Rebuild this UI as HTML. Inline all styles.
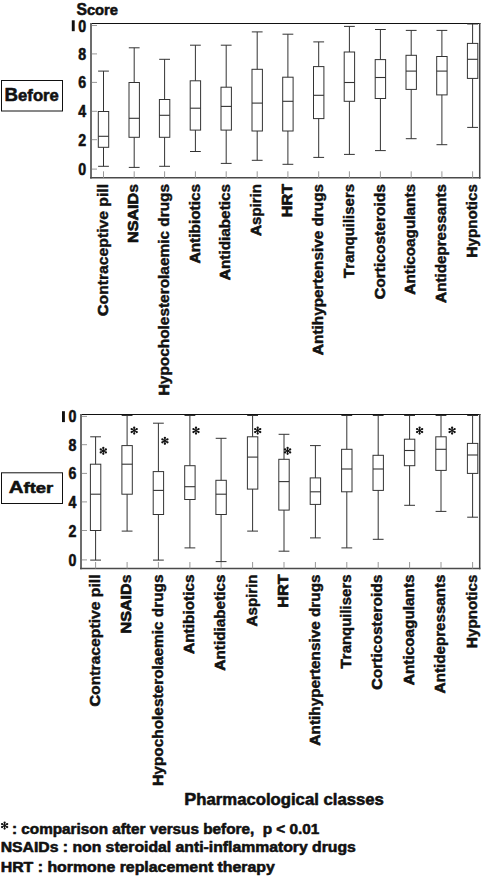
<!DOCTYPE html>
<html><head><meta charset="utf-8"><style>
html,body{margin:0;padding:0;background:#fff;overflow:hidden;}
svg{display:block;}
text{font-family:"Liberation Sans",sans-serif;font-weight:bold;fill:#111;stroke:#111;stroke-width:0.55px;stroke-linejoin:round;white-space:pre;}
.yl{font-size:16.2px;}
.xl{font-size:15px;stroke-width:0.42px;}
.t15{font-size:15px;}
.t17{font-size:17px;}
.t14{font-size:14px;}
</style></head><body>
<svg width="482" height="876" viewBox="0 0 482 876">
<rect width="482" height="876" fill="#fff"/>
<text x="76.4" y="14.5" class="t15" textLength="41.7" lengthAdjust="spacingAndGlyphs"><tspan style="font-size:16px">S</tspan>core</text>
<rect x="1.5" y="80.5" width="61" height="30.5" fill="none" stroke="#111" stroke-width="1"/>
<text x="4.6" y="100.5" class="t17" style="font-size:15.6px" textLength="54.2" lengthAdjust="spacingAndGlyphs"><tspan style="font-size:17.5px">B</tspan>efore</text>
<line x1="91" y1="23.5" x2="480.45" y2="23.5" stroke="#111" stroke-width="1.1"/>
<line x1="91" y1="23" x2="91" y2="178.6" stroke="#666" stroke-width="1.9"/>
<line x1="479.7" y1="23" x2="479.7" y2="178.6" stroke="#444" stroke-width="1.5"/>
<line x1="90.05" y1="177.8" x2="480.45" y2="177.8" stroke="#4a4a4a" stroke-width="1.6"/>
<line x1="91.9" y1="169.1" x2="97" y2="169.1" stroke="#999" stroke-width="1"/>
<text x="86.1" y="175.1" text-anchor="end" class="yl" textLength="7.9" lengthAdjust="spacingAndGlyphs">0</text>
<line x1="91.9" y1="139.7" x2="97" y2="139.7" stroke="#999" stroke-width="1"/>
<text x="86.1" y="145.7" text-anchor="end" class="yl" textLength="7.9" lengthAdjust="spacingAndGlyphs">2</text>
<line x1="91.9" y1="111.3" x2="97" y2="111.3" stroke="#999" stroke-width="1"/>
<text x="86.1" y="117.3" text-anchor="end" class="yl" textLength="7.9" lengthAdjust="spacingAndGlyphs">4</text>
<line x1="91.9" y1="82.4" x2="97" y2="82.4" stroke="#999" stroke-width="1"/>
<text x="86.1" y="88.4" text-anchor="end" class="yl" textLength="7.9" lengthAdjust="spacingAndGlyphs">6</text>
<line x1="91.9" y1="53.9" x2="97" y2="53.9" stroke="#999" stroke-width="1"/>
<text x="86.1" y="59.9" text-anchor="end" class="yl" textLength="7.9" lengthAdjust="spacingAndGlyphs">8</text>
<line x1="91.9" y1="25.5" x2="97" y2="25.5" stroke="#999" stroke-width="1"/>
<text x="86.1" y="31.5" text-anchor="end" class="yl" textLength="7.9" lengthAdjust="spacingAndGlyphs">0</text>
<rect x="71.8" y="20.3" width="2.9" height="10.9" fill="#111"/>
<line x1="103.5" y1="171.3" x2="103.5" y2="177.8" stroke="#999" stroke-width="1"/>
<line x1="134.2" y1="171.3" x2="134.2" y2="177.8" stroke="#999" stroke-width="1"/>
<line x1="164.6" y1="171.3" x2="164.6" y2="177.8" stroke="#999" stroke-width="1"/>
<line x1="195.4" y1="171.3" x2="195.4" y2="177.8" stroke="#999" stroke-width="1"/>
<line x1="226.2" y1="171.3" x2="226.2" y2="177.8" stroke="#999" stroke-width="1"/>
<line x1="257.2" y1="171.3" x2="257.2" y2="177.8" stroke="#999" stroke-width="1"/>
<line x1="287.9" y1="171.3" x2="287.9" y2="177.8" stroke="#999" stroke-width="1"/>
<line x1="318.7" y1="171.3" x2="318.7" y2="177.8" stroke="#999" stroke-width="1"/>
<line x1="349.4" y1="171.3" x2="349.4" y2="177.8" stroke="#999" stroke-width="1"/>
<line x1="380.4" y1="171.3" x2="380.4" y2="177.8" stroke="#999" stroke-width="1"/>
<line x1="411.2" y1="171.3" x2="411.2" y2="177.8" stroke="#999" stroke-width="1"/>
<line x1="441.9" y1="171.3" x2="441.9" y2="177.8" stroke="#999" stroke-width="1"/>
<line x1="472.6" y1="171.3" x2="472.6" y2="177.8" stroke="#999" stroke-width="1"/>
<path d="M103.5 71.1V111.5M103.5 147.3V166.3M98.1 71.1H108.9M98.1 166.3H108.9" stroke="#333" stroke-width="1" fill="none"/>
<rect x="98.3" y="111.5" width="10.4" height="35.8" stroke="#333" stroke-width="1" fill="none"/>
<line x1="98.3" y1="136.3" x2="108.7" y2="136.3" stroke="#333" stroke-width="1.1"/>
<path d="M134.2 47.8V82.5M134.2 137.3V167.4M128.8 47.8H139.6M128.8 167.4H139.6" stroke="#333" stroke-width="1" fill="none"/>
<rect x="129" y="82.5" width="10.4" height="54.8" stroke="#333" stroke-width="1" fill="none"/>
<line x1="129" y1="118.3" x2="139.4" y2="118.3" stroke="#333" stroke-width="1.1"/>
<path d="M164.6 59.3V99.5M164.6 137.3V166.3M159.2 59.3H170M159.2 166.3H170" stroke="#333" stroke-width="1" fill="none"/>
<rect x="159.4" y="99.5" width="10.4" height="37.8" stroke="#333" stroke-width="1" fill="none"/>
<line x1="159.4" y1="115.3" x2="169.8" y2="115.3" stroke="#333" stroke-width="1.1"/>
<path d="M195.4 45.2V80.8M195.4 130.1V151.5M190 45.2H200.8M190 151.5H200.8" stroke="#333" stroke-width="1" fill="none"/>
<rect x="190.2" y="80.8" width="10.4" height="49.3" stroke="#333" stroke-width="1" fill="none"/>
<line x1="190.2" y1="108.2" x2="200.6" y2="108.2" stroke="#333" stroke-width="1.1"/>
<path d="M226.2 45.2V87.2M226.2 130.1V163.4M220.8 45.2H231.6M220.8 163.4H231.6" stroke="#333" stroke-width="1" fill="none"/>
<rect x="221" y="87.2" width="10.4" height="42.9" stroke="#333" stroke-width="1" fill="none"/>
<line x1="221" y1="106.4" x2="231.4" y2="106.4" stroke="#333" stroke-width="1.1"/>
<path d="M257.2 31.9V69.3M257.2 131V160.3M251.8 31.9H262.6M251.8 160.3H262.6" stroke="#333" stroke-width="1" fill="none"/>
<rect x="252" y="69.3" width="10.4" height="61.7" stroke="#333" stroke-width="1" fill="none"/>
<line x1="252" y1="103.1" x2="262.4" y2="103.1" stroke="#333" stroke-width="1.1"/>
<path d="M287.9 34.2V77.2M287.9 131V164.3M282.5 34.2H293.3M282.5 164.3H293.3" stroke="#333" stroke-width="1" fill="none"/>
<rect x="282.7" y="77.2" width="10.4" height="53.8" stroke="#333" stroke-width="1" fill="none"/>
<line x1="282.7" y1="101.3" x2="293.1" y2="101.3" stroke="#333" stroke-width="1.1"/>
<path d="M318.7 41.9V66.6M318.7 118.6V157.4M313.3 41.9H324.1M313.3 157.4H324.1" stroke="#333" stroke-width="1" fill="none"/>
<rect x="313.5" y="66.6" width="10.4" height="52" stroke="#333" stroke-width="1" fill="none"/>
<line x1="313.5" y1="95.3" x2="323.9" y2="95.3" stroke="#333" stroke-width="1.1"/>
<path d="M349.4 26.4V52M349.4 101.3V154.4M344 26.4H354.8M344 154.4H354.8" stroke="#333" stroke-width="1" fill="none"/>
<rect x="344.2" y="52" width="10.4" height="49.3" stroke="#333" stroke-width="1" fill="none"/>
<line x1="344.2" y1="82.5" x2="354.6" y2="82.5" stroke="#333" stroke-width="1.1"/>
<path d="M380.4 29.5V59.6M380.4 98.5V150.6M375 29.5H385.8M375 150.6H385.8" stroke="#333" stroke-width="1" fill="none"/>
<rect x="375.2" y="59.6" width="10.4" height="38.9" stroke="#333" stroke-width="1" fill="none"/>
<line x1="375.2" y1="77.5" x2="385.6" y2="77.5" stroke="#333" stroke-width="1.1"/>
<path d="M411.2 30.4V55.3M411.2 89.4V138.7M405.8 30.4H416.6M405.8 138.7H416.6" stroke="#333" stroke-width="1" fill="none"/>
<rect x="406" y="55.3" width="10.4" height="34.1" stroke="#333" stroke-width="1" fill="none"/>
<line x1="406" y1="71.1" x2="416.4" y2="71.1" stroke="#333" stroke-width="1.1"/>
<path d="M441.9 30.4V56.5M441.9 94.9V144.7M436.5 30.4H447.3M436.5 144.7H447.3" stroke="#333" stroke-width="1" fill="none"/>
<rect x="436.7" y="56.5" width="10.4" height="38.4" stroke="#333" stroke-width="1" fill="none"/>
<line x1="436.7" y1="71.1" x2="447.1" y2="71.1" stroke="#333" stroke-width="1.1"/>
<path d="M472.6 24V43.4M472.6 78.4V127.4M467.2 24H478M467.2 127.4H478" stroke="#333" stroke-width="1" fill="none"/>
<rect x="467.4" y="43.4" width="10.4" height="35" stroke="#333" stroke-width="1" fill="none"/>
<line x1="467.4" y1="59.3" x2="477.8" y2="59.3" stroke="#333" stroke-width="1.1"/>
<text transform="translate(107.7,184) rotate(-90)" text-anchor="end" class="xl" textLength="132" lengthAdjust="spacingAndGlyphs"><tspan style="font-size:15.3px;stroke-width:0.7px">C</tspan>ontraceptive pill</text>
<text transform="translate(138.4,184) rotate(-90)" text-anchor="end" class="xl" textLength="59" lengthAdjust="spacingAndGlyphs"><tspan style="font-size:15.3px;stroke-width:0.7px">N</tspan><tspan style="font-size:15.3px;stroke-width:0.7px">S</tspan><tspan style="font-size:15.3px;stroke-width:0.7px">A</tspan><tspan style="font-size:15.3px;stroke-width:0.7px">I</tspan><tspan style="font-size:15.3px;stroke-width:0.7px">D</tspan>s</text>
<text transform="translate(168.8,184) rotate(-90)" text-anchor="end" class="xl" textLength="211.5" lengthAdjust="spacingAndGlyphs"><tspan style="font-size:15.3px;stroke-width:0.7px">H</tspan>ypocholesterolaemic drugs</text>
<text transform="translate(199.6,184) rotate(-90)" text-anchor="end" class="xl" textLength="79.6" lengthAdjust="spacingAndGlyphs"><tspan style="font-size:15.3px;stroke-width:0.7px">A</tspan>ntibiotics</text>
<text transform="translate(230.4,184) rotate(-90)" text-anchor="end" class="xl" textLength="96.3" lengthAdjust="spacingAndGlyphs"><tspan style="font-size:15.3px;stroke-width:0.7px">A</tspan>ntidiabetics</text>
<text transform="translate(261.4,184) rotate(-90)" text-anchor="end" class="xl" textLength="52" lengthAdjust="spacingAndGlyphs"><tspan style="font-size:15.3px;stroke-width:0.7px">A</tspan>spirin</text>
<text transform="translate(292.1,184) rotate(-90)" text-anchor="end" class="xl" textLength="33.2" lengthAdjust="spacingAndGlyphs"><tspan style="font-size:15.3px;stroke-width:0.7px">H</tspan><tspan style="font-size:15.3px;stroke-width:0.7px">R</tspan><tspan style="font-size:15.3px;stroke-width:0.7px">T</tspan></text>
<text transform="translate(322.9,184) rotate(-90)" text-anchor="end" class="xl" textLength="171.2" lengthAdjust="spacingAndGlyphs"><tspan style="font-size:15.3px;stroke-width:0.7px">A</tspan>ntihypertensive drugs</text>
<text transform="translate(353.6,184) rotate(-90)" text-anchor="end" class="xl" textLength="94" lengthAdjust="spacingAndGlyphs"><tspan style="font-size:15.3px;stroke-width:0.7px">T</tspan>ranquilisers</text>
<text transform="translate(384.6,184) rotate(-90)" text-anchor="end" class="xl" textLength="115.3" lengthAdjust="spacingAndGlyphs"><tspan style="font-size:15.3px;stroke-width:0.7px">C</tspan>orticosteroids</text>
<text transform="translate(415.4,184) rotate(-90)" text-anchor="end" class="xl" textLength="110.8" lengthAdjust="spacingAndGlyphs"><tspan style="font-size:15.3px;stroke-width:0.7px">A</tspan>nticoagulants</text>
<text transform="translate(446.1,184) rotate(-90)" text-anchor="end" class="xl" textLength="119" lengthAdjust="spacingAndGlyphs"><tspan style="font-size:15.3px;stroke-width:0.7px">A</tspan>ntidepressants</text>
<text transform="translate(476.8,184) rotate(-90)" text-anchor="end" class="xl" textLength="73.8" lengthAdjust="spacingAndGlyphs"><tspan style="font-size:15.3px;stroke-width:0.7px">H</tspan>ypnotics</text>
<rect x="1.5" y="472.8" width="61" height="30.7" fill="none" stroke="#111" stroke-width="1"/>
<text x="8.7" y="492.9" class="t17" style="font-size:15.5px" textLength="44.6" lengthAdjust="spacingAndGlyphs"><tspan style="font-size:17.2px">A</tspan>fter</text>
<line x1="81" y1="414.5" x2="480.45" y2="414.5" stroke="#111" stroke-width="1.1"/>
<line x1="81" y1="414" x2="81" y2="569.3" stroke="#666" stroke-width="1.9"/>
<line x1="479.7" y1="414" x2="479.7" y2="569.3" stroke="#444" stroke-width="1.5"/>
<line x1="80.05" y1="568.5" x2="480.45" y2="568.5" stroke="#4a4a4a" stroke-width="1.6"/>
<line x1="81.9" y1="559.9" x2="87" y2="559.9" stroke="#999" stroke-width="1"/>
<text x="76.3" y="565.9" text-anchor="end" class="yl" textLength="7.9" lengthAdjust="spacingAndGlyphs">0</text>
<line x1="81.9" y1="530.5" x2="87" y2="530.5" stroke="#999" stroke-width="1"/>
<text x="76.3" y="536.5" text-anchor="end" class="yl" textLength="7.9" lengthAdjust="spacingAndGlyphs">2</text>
<line x1="81.9" y1="501.9" x2="87" y2="501.9" stroke="#999" stroke-width="1"/>
<text x="76.3" y="507.9" text-anchor="end" class="yl" textLength="7.9" lengthAdjust="spacingAndGlyphs">4</text>
<line x1="81.9" y1="473.4" x2="87" y2="473.4" stroke="#999" stroke-width="1"/>
<text x="76.3" y="479.4" text-anchor="end" class="yl" textLength="7.9" lengthAdjust="spacingAndGlyphs">6</text>
<line x1="81.9" y1="444.7" x2="87" y2="444.7" stroke="#999" stroke-width="1"/>
<text x="76.3" y="450.7" text-anchor="end" class="yl" textLength="7.9" lengthAdjust="spacingAndGlyphs">8</text>
<line x1="81.9" y1="416.4" x2="87" y2="416.4" stroke="#999" stroke-width="1"/>
<text x="76.3" y="422.4" text-anchor="end" class="yl" textLength="7.9" lengthAdjust="spacingAndGlyphs">0</text>
<rect x="62" y="411.2" width="2.9" height="10.9" fill="#111"/>
<line x1="95.6" y1="562" x2="95.6" y2="568.5" stroke="#999" stroke-width="1"/>
<line x1="127.1" y1="562" x2="127.1" y2="568.5" stroke="#999" stroke-width="1"/>
<line x1="158.4" y1="562" x2="158.4" y2="568.5" stroke="#999" stroke-width="1"/>
<line x1="189.9" y1="562" x2="189.9" y2="568.5" stroke="#999" stroke-width="1"/>
<line x1="221.1" y1="562" x2="221.1" y2="568.5" stroke="#999" stroke-width="1"/>
<line x1="252.6" y1="562" x2="252.6" y2="568.5" stroke="#999" stroke-width="1"/>
<line x1="284" y1="562" x2="284" y2="568.5" stroke="#999" stroke-width="1"/>
<line x1="315.4" y1="562" x2="315.4" y2="568.5" stroke="#999" stroke-width="1"/>
<line x1="346.8" y1="562" x2="346.8" y2="568.5" stroke="#999" stroke-width="1"/>
<line x1="378.2" y1="562" x2="378.2" y2="568.5" stroke="#999" stroke-width="1"/>
<line x1="409.6" y1="562" x2="409.6" y2="568.5" stroke="#999" stroke-width="1"/>
<line x1="441" y1="562" x2="441" y2="568.5" stroke="#999" stroke-width="1"/>
<line x1="472.6" y1="562" x2="472.6" y2="568.5" stroke="#999" stroke-width="1"/>
<path d="M95.6 436.8V464.2M95.6 530.5V560.1M90.2 436.8H101M90.2 560.1H101" stroke="#333" stroke-width="1" fill="none"/>
<rect x="90.4" y="464.2" width="10.4" height="66.3" stroke="#333" stroke-width="1" fill="none"/>
<line x1="90.4" y1="494.2" x2="100.8" y2="494.2" stroke="#333" stroke-width="1.1"/>
<path d="M127.1 415.5V445.6M127.1 494.2V531.1M121.7 415.5H132.5M121.7 531.1H132.5" stroke="#333" stroke-width="1" fill="none"/>
<rect x="121.9" y="445.6" width="10.4" height="48.6" stroke="#333" stroke-width="1" fill="none"/>
<line x1="121.9" y1="464.2" x2="132.3" y2="464.2" stroke="#333" stroke-width="1.1"/>
<path d="M158.4 423.2V471.6M158.4 514.5V560.1M153 423.2H163.8M153 560.1H163.8" stroke="#333" stroke-width="1" fill="none"/>
<rect x="153.2" y="471.6" width="10.4" height="42.9" stroke="#333" stroke-width="1" fill="none"/>
<line x1="153.2" y1="490.4" x2="163.6" y2="490.4" stroke="#333" stroke-width="1.1"/>
<path d="M189.9 415.5V465.7M189.9 499.5V547.9M184.5 415.5H195.3M184.5 547.9H195.3" stroke="#333" stroke-width="1" fill="none"/>
<rect x="184.7" y="465.7" width="10.4" height="33.8" stroke="#333" stroke-width="1" fill="none"/>
<line x1="184.7" y1="486.7" x2="195.1" y2="486.7" stroke="#333" stroke-width="1.1"/>
<path d="M221.1 438.3V480.3M221.1 514.5V561.6M215.7 438.3H226.5M215.7 561.6H226.5" stroke="#333" stroke-width="1" fill="none"/>
<rect x="215.9" y="480.3" width="10.4" height="34.2" stroke="#333" stroke-width="1" fill="none"/>
<line x1="215.9" y1="494.2" x2="226.3" y2="494.2" stroke="#333" stroke-width="1.1"/>
<path d="M252.6 415.5V436.8M252.6 489.1V531.1M247.2 415.5H258M247.2 531.1H258" stroke="#333" stroke-width="1" fill="none"/>
<rect x="247.4" y="436.8" width="10.4" height="52.3" stroke="#333" stroke-width="1" fill="none"/>
<line x1="247.4" y1="457.1" x2="257.8" y2="457.1" stroke="#333" stroke-width="1.1"/>
<path d="M284 434.3V459.3M284 510.1V551.2M278.6 434.3H289.4M278.6 551.2H289.4" stroke="#333" stroke-width="1" fill="none"/>
<rect x="278.8" y="459.3" width="10.4" height="50.8" stroke="#333" stroke-width="1" fill="none"/>
<line x1="278.8" y1="481.6" x2="289.2" y2="481.6" stroke="#333" stroke-width="1.1"/>
<path d="M315.4 445.6V477.9M315.4 504.4V537.9M310 445.6H320.8M310 537.9H320.8" stroke="#333" stroke-width="1" fill="none"/>
<rect x="310.2" y="477.9" width="10.4" height="26.5" stroke="#333" stroke-width="1" fill="none"/>
<line x1="310.2" y1="491.8" x2="320.6" y2="491.8" stroke="#333" stroke-width="1.1"/>
<path d="M346.8 415.5V449.3M346.8 491.8V547.9M341.4 415.5H352.2M341.4 547.9H352.2" stroke="#333" stroke-width="1" fill="none"/>
<rect x="341.6" y="449.3" width="10.4" height="42.5" stroke="#333" stroke-width="1" fill="none"/>
<line x1="341.6" y1="469" x2="352" y2="469" stroke="#333" stroke-width="1.1"/>
<path d="M378.2 415.5V455.3M378.2 490.4V539.3M372.8 415.5H383.6M372.8 539.3H383.6" stroke="#333" stroke-width="1" fill="none"/>
<rect x="373" y="455.3" width="10.4" height="35.1" stroke="#333" stroke-width="1" fill="none"/>
<line x1="373" y1="469" x2="383.4" y2="469" stroke="#333" stroke-width="1.1"/>
<path d="M409.6 415.5V439.2M409.6 465.7V505.3M404.2 415.5H415M404.2 505.3H415" stroke="#333" stroke-width="1" fill="none"/>
<rect x="404.4" y="439.2" width="10.4" height="26.5" stroke="#333" stroke-width="1" fill="none"/>
<line x1="404.4" y1="450.5" x2="414.8" y2="450.5" stroke="#333" stroke-width="1.1"/>
<path d="M441 415.5V436.8M441 470.4V511.4M435.6 415.5H446.4M435.6 511.4H446.4" stroke="#333" stroke-width="1" fill="none"/>
<rect x="435.8" y="436.8" width="10.4" height="33.6" stroke="#333" stroke-width="1" fill="none"/>
<line x1="435.8" y1="449.3" x2="446.2" y2="449.3" stroke="#333" stroke-width="1.1"/>
<path d="M472.6 415.5V443.4M472.6 473.4V517.2M467.2 415.5H478M467.2 517.2H478" stroke="#333" stroke-width="1" fill="none"/>
<rect x="467.4" y="443.4" width="10.4" height="30" stroke="#333" stroke-width="1" fill="none"/>
<line x1="467.4" y1="455" x2="477.8" y2="455" stroke="#333" stroke-width="1.1"/>
<text transform="translate(99.8,574.5) rotate(-90)" text-anchor="end" class="xl" textLength="132" lengthAdjust="spacingAndGlyphs"><tspan style="font-size:15.3px;stroke-width:0.7px">C</tspan>ontraceptive pill</text>
<text transform="translate(131.3,574.5) rotate(-90)" text-anchor="end" class="xl" textLength="59" lengthAdjust="spacingAndGlyphs"><tspan style="font-size:15.3px;stroke-width:0.7px">N</tspan><tspan style="font-size:15.3px;stroke-width:0.7px">S</tspan><tspan style="font-size:15.3px;stroke-width:0.7px">A</tspan><tspan style="font-size:15.3px;stroke-width:0.7px">I</tspan><tspan style="font-size:15.3px;stroke-width:0.7px">D</tspan>s</text>
<text transform="translate(162.6,574.5) rotate(-90)" text-anchor="end" class="xl" textLength="211.5" lengthAdjust="spacingAndGlyphs"><tspan style="font-size:15.3px;stroke-width:0.7px">H</tspan>ypocholesterolaemic drugs</text>
<text transform="translate(194.1,574.5) rotate(-90)" text-anchor="end" class="xl" textLength="79.6" lengthAdjust="spacingAndGlyphs"><tspan style="font-size:15.3px;stroke-width:0.7px">A</tspan>ntibiotics</text>
<text transform="translate(225.3,574.5) rotate(-90)" text-anchor="end" class="xl" textLength="96.3" lengthAdjust="spacingAndGlyphs"><tspan style="font-size:15.3px;stroke-width:0.7px">A</tspan>ntidiabetics</text>
<text transform="translate(256.8,574.5) rotate(-90)" text-anchor="end" class="xl" textLength="52" lengthAdjust="spacingAndGlyphs"><tspan style="font-size:15.3px;stroke-width:0.7px">A</tspan>spirin</text>
<text transform="translate(288.2,574.5) rotate(-90)" text-anchor="end" class="xl" textLength="33.2" lengthAdjust="spacingAndGlyphs"><tspan style="font-size:15.3px;stroke-width:0.7px">H</tspan><tspan style="font-size:15.3px;stroke-width:0.7px">R</tspan><tspan style="font-size:15.3px;stroke-width:0.7px">T</tspan></text>
<text transform="translate(319.6,574.5) rotate(-90)" text-anchor="end" class="xl" textLength="171.2" lengthAdjust="spacingAndGlyphs"><tspan style="font-size:15.3px;stroke-width:0.7px">A</tspan>ntihypertensive drugs</text>
<text transform="translate(351,574.5) rotate(-90)" text-anchor="end" class="xl" textLength="94" lengthAdjust="spacingAndGlyphs"><tspan style="font-size:15.3px;stroke-width:0.7px">T</tspan>ranquilisers</text>
<text transform="translate(382.4,574.5) rotate(-90)" text-anchor="end" class="xl" textLength="115.3" lengthAdjust="spacingAndGlyphs"><tspan style="font-size:15.3px;stroke-width:0.7px">C</tspan>orticosteroids</text>
<text transform="translate(413.8,574.5) rotate(-90)" text-anchor="end" class="xl" textLength="110.8" lengthAdjust="spacingAndGlyphs"><tspan style="font-size:15.3px;stroke-width:0.7px">A</tspan>nticoagulants</text>
<text transform="translate(445.2,574.5) rotate(-90)" text-anchor="end" class="xl" textLength="119" lengthAdjust="spacingAndGlyphs"><tspan style="font-size:15.3px;stroke-width:0.7px">A</tspan>ntidepressants</text>
<text transform="translate(476.8,574.5) rotate(-90)" text-anchor="end" class="xl" textLength="73.8" lengthAdjust="spacingAndGlyphs"><tspan style="font-size:15.3px;stroke-width:0.7px">H</tspan>ypnotics</text>
<g fill="#111"><path d="M103.3 450.9L103.3 447.95M103.3 450.9L105.85 449.42M103.3 450.9L100.75 449.42M103.3 450.9L103.3 453.85M103.3 450.9L100.75 452.38M103.3 450.9L105.85 452.38" stroke="#111" stroke-width="1.1" fill="none"/><circle cx="103.3" cy="447.95" r="1.15"/><circle cx="105.85" cy="449.42" r="1.15"/><circle cx="100.75" cy="449.42" r="1.15"/><circle cx="103.3" cy="453.85" r="1.15"/><circle cx="100.75" cy="452.38" r="1.15"/><circle cx="105.85" cy="452.38" r="1.15"/></g>
<g fill="#111"><path d="M134.2 430.6L134.2 427.65M134.2 430.6L136.75 429.12M134.2 430.6L131.65 429.12M134.2 430.6L134.2 433.55M134.2 430.6L131.65 432.08M134.2 430.6L136.75 432.08" stroke="#111" stroke-width="1.1" fill="none"/><circle cx="134.2" cy="427.65" r="1.15"/><circle cx="136.75" cy="429.12" r="1.15"/><circle cx="131.65" cy="429.12" r="1.15"/><circle cx="134.2" cy="433.55" r="1.15"/><circle cx="131.65" cy="432.08" r="1.15"/><circle cx="136.75" cy="432.08" r="1.15"/></g>
<g fill="#111"><path d="M164.9 440.8L164.9 437.85M164.9 440.8L167.45 439.32M164.9 440.8L162.35 439.32M164.9 440.8L164.9 443.75M164.9 440.8L162.35 442.28M164.9 440.8L167.45 442.28" stroke="#111" stroke-width="1.1" fill="none"/><circle cx="164.9" cy="437.85" r="1.15"/><circle cx="167.45" cy="439.32" r="1.15"/><circle cx="162.35" cy="439.32" r="1.15"/><circle cx="164.9" cy="443.75" r="1.15"/><circle cx="162.35" cy="442.28" r="1.15"/><circle cx="167.45" cy="442.28" r="1.15"/></g>
<g fill="#111"><path d="M196 430.6L196 427.65M196 430.6L198.55 429.12M196 430.6L193.45 429.12M196 430.6L196 433.55M196 430.6L193.45 432.08M196 430.6L198.55 432.08" stroke="#111" stroke-width="1.1" fill="none"/><circle cx="196" cy="427.65" r="1.15"/><circle cx="198.55" cy="429.12" r="1.15"/><circle cx="193.45" cy="429.12" r="1.15"/><circle cx="196" cy="433.55" r="1.15"/><circle cx="193.45" cy="432.08" r="1.15"/><circle cx="198.55" cy="432.08" r="1.15"/></g>
<g fill="#111"><path d="M257.7 430.6L257.7 427.65M257.7 430.6L260.25 429.12M257.7 430.6L255.15 429.12M257.7 430.6L257.7 433.55M257.7 430.6L255.15 432.08M257.7 430.6L260.25 432.08" stroke="#111" stroke-width="1.1" fill="none"/><circle cx="257.7" cy="427.65" r="1.15"/><circle cx="260.25" cy="429.12" r="1.15"/><circle cx="255.15" cy="429.12" r="1.15"/><circle cx="257.7" cy="433.55" r="1.15"/><circle cx="255.15" cy="432.08" r="1.15"/><circle cx="260.25" cy="432.08" r="1.15"/></g>
<g fill="#111"><path d="M287.6 450.9L287.6 447.95M287.6 450.9L290.15 449.42M287.6 450.9L285.05 449.42M287.6 450.9L287.6 453.85M287.6 450.9L285.05 452.38M287.6 450.9L290.15 452.38" stroke="#111" stroke-width="1.1" fill="none"/><circle cx="287.6" cy="447.95" r="1.15"/><circle cx="290.15" cy="449.42" r="1.15"/><circle cx="285.05" cy="449.42" r="1.15"/><circle cx="287.6" cy="453.85" r="1.15"/><circle cx="285.05" cy="452.38" r="1.15"/><circle cx="290.15" cy="452.38" r="1.15"/></g>
<g fill="#111"><path d="M419.6 430.6L419.6 427.65M419.6 430.6L422.15 429.12M419.6 430.6L417.05 429.12M419.6 430.6L419.6 433.55M419.6 430.6L417.05 432.08M419.6 430.6L422.15 432.08" stroke="#111" stroke-width="1.1" fill="none"/><circle cx="419.6" cy="427.65" r="1.15"/><circle cx="422.15" cy="429.12" r="1.15"/><circle cx="417.05" cy="429.12" r="1.15"/><circle cx="419.6" cy="433.55" r="1.15"/><circle cx="417.05" cy="432.08" r="1.15"/><circle cx="422.15" cy="432.08" r="1.15"/></g>
<g fill="#111"><path d="M452.1 430.6L452.1 427.65M452.1 430.6L454.65 429.12M452.1 430.6L449.55 429.12M452.1 430.6L452.1 433.55M452.1 430.6L449.55 432.08M452.1 430.6L454.65 432.08" stroke="#111" stroke-width="1.1" fill="none"/><circle cx="452.1" cy="427.65" r="1.15"/><circle cx="454.65" cy="429.12" r="1.15"/><circle cx="449.55" cy="429.12" r="1.15"/><circle cx="452.1" cy="433.55" r="1.15"/><circle cx="449.55" cy="432.08" r="1.15"/><circle cx="454.65" cy="432.08" r="1.15"/></g>
<text x="184.3" y="805.0" class="t17" style="font-size:15.8px" textLength="199.6" lengthAdjust="spacingAndGlyphs"><tspan style="font-size:17px">P</tspan>harmacological classes</text>
<g fill="#111"><path d="M4.6 825.6L4.6 822.65M4.6 825.6L7.15 824.12M4.6 825.6L2.05 824.12M4.6 825.6L4.6 828.55M4.6 825.6L2.05 827.08M4.6 825.6L7.15 827.08" stroke="#111" stroke-width="1.1" fill="none"/><circle cx="4.6" cy="822.65" r="1.15"/><circle cx="7.15" cy="824.12" r="1.15"/><circle cx="2.05" cy="824.12" r="1.15"/><circle cx="4.6" cy="828.55" r="1.15"/><circle cx="2.05" cy="827.08" r="1.15"/><circle cx="7.15" cy="827.08" r="1.15"/></g>
<text x="12" y="833.7" class="t14" textLength="307.2" lengthAdjust="spacingAndGlyphs">: comparison after versus before,  p &lt; 0.01</text>
<text x="0.7" y="852.3" class="t14" textLength="355.1" lengthAdjust="spacingAndGlyphs">NSAIDs : non steroidal anti-inflammatory drugs</text>
<text x="0.7" y="871.8" class="t14" textLength="274.2" lengthAdjust="spacingAndGlyphs">HRT : hormone replacement therapy</text>
</svg>
</body></html>
